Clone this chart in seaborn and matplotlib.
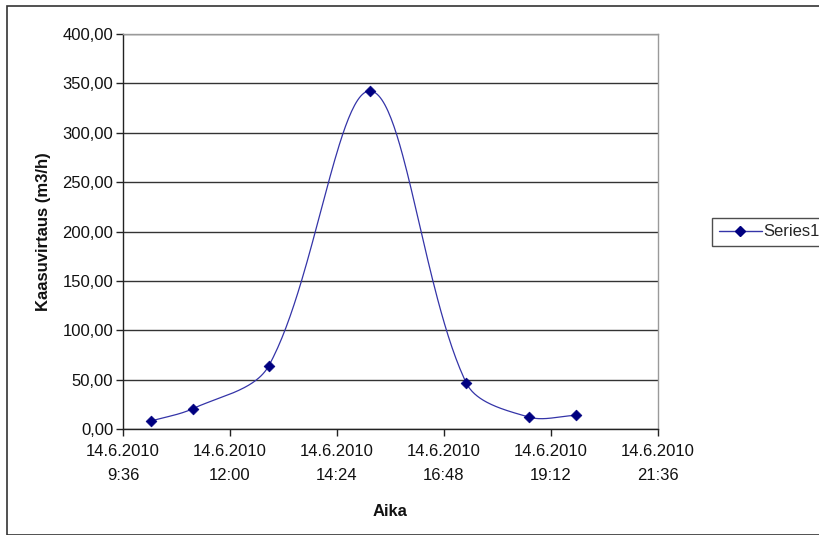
import numpy as np
import pandas as pd
import matplotlib
matplotlib.use("Agg")
import matplotlib.pyplot as plt
import matplotlib.dates as mdates
from matplotlib.lines import Line2D
from matplotlib.patches import Rectangle
from matplotlib.ticker import FuncFormatter, MultipleLocator
import seaborn as sns

# Measured gas flow, 14.6.2010
times = ["2010-06-14 10:14", "2010-06-14 11:10", "2010-06-14 12:52",
         "2010-06-14 15:09", "2010-06-14 17:18", "2010-06-14 18:42",
         "2010-06-14 19:45"]
flow = [8.1, 20.6, 63.8, 342.3, 46.6, 12.1, 13.8]
series_name = "Series1"

x_start = "2010-06-14 09:36"
x_end = "2010-06-14 21:36"
tick_step_minutes = 144

sns.set_theme(style="white")
plt.rcParams["font.family"] = ["Liberation Sans", "DejaVu Sans"]

df = pd.DataFrame({"time": pd.to_datetime(times), "flow": flow})
xnum = mdates.date2num(df["time"])
ynum = df["flow"].to_numpy()

# screen aspect of the plot area: pixels per day and per flow unit
PX_PER_DAY = 0.743 * 1440
PX_PER_UNIT = 0.9875


def smooth_curve(x, y, n=60):
    """Bezier smoothing with chord-length weighted tangents, done in screen space."""
    P = np.column_stack([x * PX_PER_DAY, y * PX_PER_UNIT])
    d = np.linalg.norm(np.diff(P, axis=0), axis=1)
    m = len(P)
    T = np.zeros_like(P)
    for i in range(m):
        if i == 0:
            T[i] = (P[1] - P[0]) / d[0]
        elif i == m - 1:
            T[i] = (P[-1] - P[-2]) / d[-1]
        else:
            T[i] = (P[i + 1] - P[i - 1]) / (d[i - 1] + d[i])
    t = np.linspace(0, 1, n)[:, None]
    pts = []
    for i in range(m - 1):
        c1 = P[i] + T[i] * d[i] / 3
        c2 = P[i + 1] - T[i + 1] * d[i] / 3
        b = (1 - t) ** 3 * P[i] + 3 * (1 - t) ** 2 * t * c1 \
            + 3 * (1 - t) * t ** 2 * c2 + t ** 3 * P[i + 1]
        pts.append(b)
    pts = np.vstack(pts)
    return pts[:, 0] / PX_PER_DAY, pts[:, 1] / PX_PER_UNIT


cx, cy = smooth_curve(xnum, ynum)
curve = pd.DataFrame({"time": mdates.num2date(cx), "flow": cy})

fig = plt.figure(figsize=(8.2, 5.35), dpi=100)
ax = fig.add_axes([123 / 820, 1 - 429 / 535, (658 - 123) / 820, (429 - 34) / 535])

line_color = "#3434a8"
marker_color = "#000080"

sns.lineplot(data=curve, x="time", y="flow", ax=ax, color=line_color,
             linewidth=0.9, sort=False, estimator=None, legend=False)
sns.scatterplot(data=df, x="time", y="flow", ax=ax, marker="D", s=30,
                color=marker_color, edgecolor=marker_color, linewidth=0.5,
                legend=False, zorder=5)

ax.set_xlim(pd.Timestamp(x_start), pd.Timestamp(x_end))
ax.set_ylim(0, 400)

ax.yaxis.set_major_locator(MultipleLocator(50))
ax.yaxis.set_major_formatter(FuncFormatter(lambda v, p: f"{v:.2f}".replace(".", ",")))

xticks = pd.date_range(x_start, x_end, freq=f"{tick_step_minutes}min")
ax.set_xticks(mdates.date2num(xticks))


def fmt_date(v, p):
    d = mdates.num2date(v)
    return f"{d.day}.{d.month}.{d.year}\n{d.hour}:{d.minute:02d}"


ax.xaxis.set_major_formatter(FuncFormatter(fmt_date))

ax.grid(axis="y", color="#333333", linewidth=1.0)
ax.grid(axis="x", visible=False)
ax.set_axisbelow(True)

for side in ("left", "bottom"):
    ax.spines[side].set_color("#222222")
    ax.spines[side].set_linewidth(1.0)
for side in ("top", "right"):
    ax.spines[side].set_color("#9a9a9a")
    ax.spines[side].set_linewidth(1.0)

ax.tick_params(axis="both", which="major", direction="out", length=5, width=1,
               color="#222222", labelcolor="#111111", labelsize=12,
               left=True, bottom=True)
ax.tick_params(axis="x", pad=6)
ax.tick_params(axis="y", pad=2)
for lbl in ax.get_xticklabels():
    lbl.set_linespacing(1.7)

ax.set_xlabel("Aika", fontsize=12, fontweight="bold", color="#111111", labelpad=15)
ax.set_ylabel("Kaasuvirtaus (m3/h)", fontsize=12, fontweight="bold",
              color="#111111", labelpad=8)

handle = Line2D([], [], color=line_color, marker="D", markersize=5,
                markerfacecolor=marker_color, markeredgecolor=marker_color,
                linewidth=1.0)
leg = fig.legend([handle], [series_name], loc="center left",
                 bbox_to_anchor=(712 / 820, 1 - 232 / 535), frameon=True,
                 fancybox=False, fontsize=12, handlelength=2.6,
                 handletextpad=0.1, borderpad=0.4, borderaxespad=0)
leg.get_frame().set_edgecolor("#222222")
leg.get_frame().set_linewidth(1.0)

# chart frame
fig.patches.append(Rectangle((7.5 / 820, 0), 1 - 7.5 / 820 + 0.01, 1 - 6 / 535,
                             transform=fig.transFigure, fill=False,
                             edgecolor="#333333", linewidth=1.2))

fig.savefig("out.png", dpi=100)
